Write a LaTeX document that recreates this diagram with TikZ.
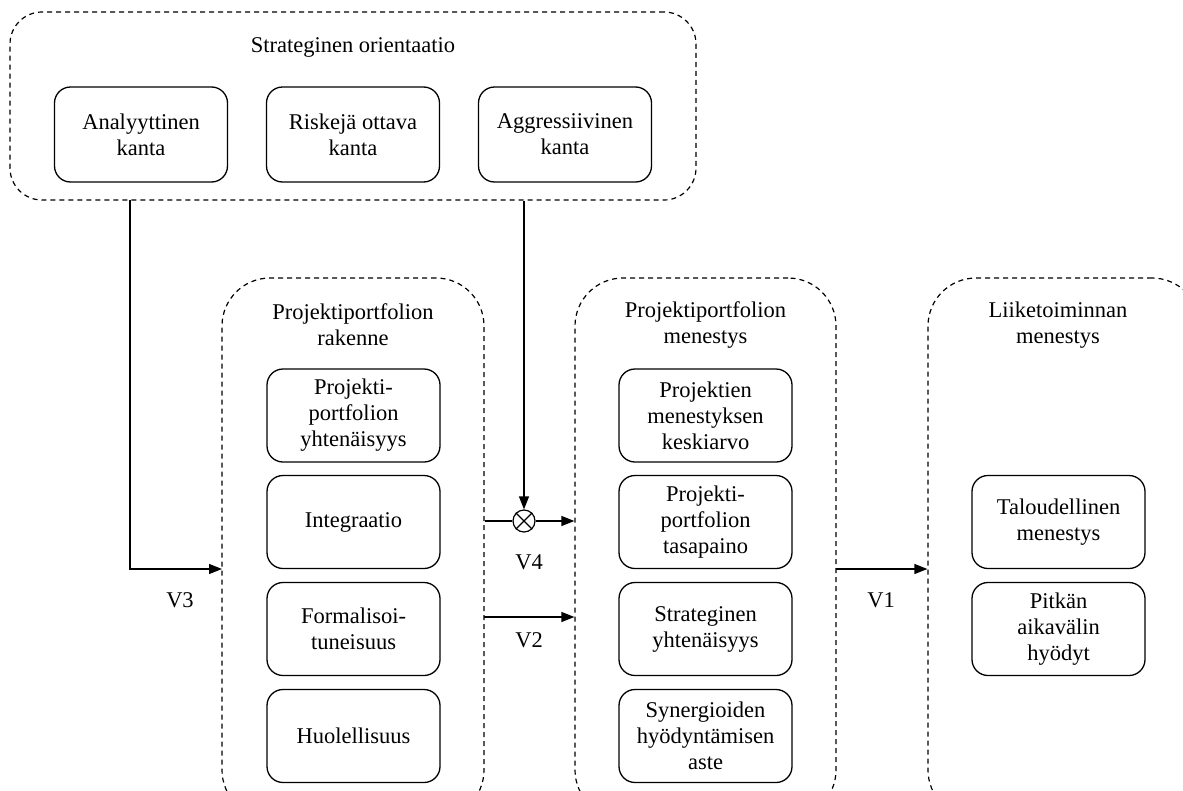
\documentclass[tikz,border=0pt]{standalone}
\usepackage{fontspec}
\setmainfont{Liberation Serif}
\usetikzlibrary{arrows.meta}
\begin{document}
\begin{tikzpicture}[x=1pt,y=-1pt,
  every node/.style={font=\fontsize{22.5}{26}\selectfont, align=center, inner sep=0pt},
  dbox/.style={draw, line width=1.2pt, dash pattern=on 5pt off 4pt, rounded corners=#1},
  ibox/.style={draw, line width=1.3pt, rounded corners=16pt, minimum width=173pt, minimum height=93pt},
  conn/.style={line width=1.2pt},
  arr/.style={line width=1.2pt, -{Triangle[length=13pt,width=10pt]}},
  lbl/.style={font=\fontsize{22.5}{26}\selectfont}
]
\useasboundingbox (0,0) rectangle (1183,790);
\clip (0,0) rectangle (1183,790);
\fill[white] (0,0) rectangle (1183,790);

% top group
\node[dbox=32pt, minimum width=686pt, minimum height=188pt] (top) at (353,106) {};
\node (toptitle) at (353,47) {Strateginen orientaatio};
\node[ibox, minimum height=95pt] (a1) at (141,134.5) {Analyyttinen\\kanta};
\node[ibox, minimum height=95pt] (a2) at (353,134.5) {Riskejä ottava\\kanta};
\node[ibox, minimum height=95pt] (a3) at (565,134.5) {Aggressiivinen\\kanta};

% lower groups
\node[dbox=48pt, minimum width=262pt, minimum height=540pt] (lbox) at (353,548) {};
\node[dbox=48pt, minimum width=261pt, minimum height=540pt] (mbox) at (705.5,548) {};
\node[dbox=48pt, minimum width=272pt, minimum height=540pt] (rbox) at (1064,548) {};

\node (ltitle) at (353,325) {Projektiportfolion\\rakenne};
\node (mtitle) at (705.5,325) {Projektiportfolion\\menestys};
\node (rtitle) at (1058,325) {Liiketoiminnan\\menestys};

\node[ibox] (l1) at (353.5,415.5) {Projekti-\\portfolion\\yhtenäisyys};
\node[ibox] (l2) at (353.5,522) {Integraatio};
\node[ibox] (l3) at (353.5,629) {Formalisoi-\\tuneisuus};
\node[ibox] (l4) at (353.5,736) {Huolellisuus};

\node[ibox] (m1) at (705.5,415.5) {Projektien\\menestyksen\\keskiarvo};
\node[ibox] (m2) at (705.5,522) {Projekti-\\portfolion\\tasapaino};
\node[ibox] (m3) at (705.5,629) {Strateginen\\yhtenäisyys};
\node[ibox] (m4) at (705.5,736) {Synergioiden\\hyödyntämisen\\aste};

\node[ibox] (r1) at (1058.5,522) {Taloudellinen\\menestys};
\node[ibox] (r2) at (1058.5,629) {Pitkän\\aikavälin\\hyödyt};

% moderator circle
\node[draw, circle, line width=1.2pt, minimum size=22pt] (circ) at (524,521) {};
\draw[line width=1.2pt] (circ.north east) -- (circ.south west);
\draw[line width=1.2pt] (circ.north west) -- (circ.south east);

% connectors
\coordinate (s3) at (130,200);
\coordinate (e3) at (222,569);
\draw[arr] (s3) |- (e3);
\draw[arr] (top.south -| circ) -- (circ.north);
\draw[conn] (lbox.east |- circ) -- (circ.west);
\draw[arr] (circ.east) -- (mbox.west |- circ);
\coordinate (s2) at (484,617);
\draw[arr] (s2) -- (mbox.west |- s2);
\coordinate (s1) at (836,569);
\draw[arr] (s1) -- (rbox.west |- s1);

% labels
\node[lbl] (v3) at (180,600) {V3};
\node[lbl] (v4) at (529,562) {V4};
\node[lbl] (v2) at (529,640) {V2};
\node[lbl] (v1) at (881,600) {V1};
\end{tikzpicture}
\end{document}
